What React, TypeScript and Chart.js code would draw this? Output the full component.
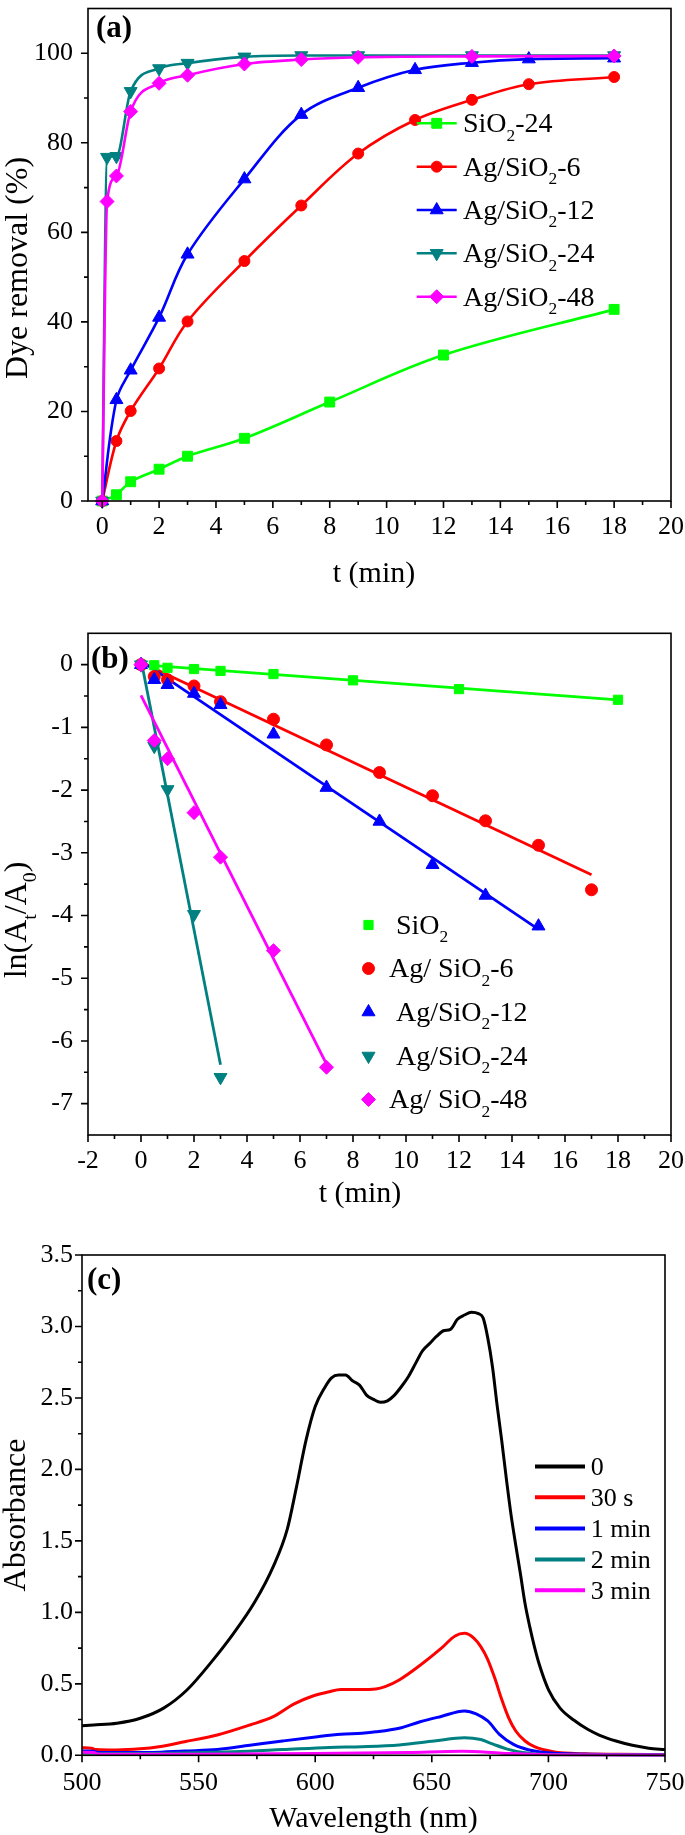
import React, { useEffect, useRef } from "react";
import { Chart, registerables } from "chart.js";

Chart.register(...registerables);

const SERIF = "'Liberation Serif', 'Times New Roman', Times, serif";
const W = 685;

const GREEN = "#00ff00";
const RED = "#ff0000";
const BLUE = "#0000ff";
const TEAL = "#008080";
const MAGENTA = "#ff00ff";
const BLACK = "#000000";

// ---------------- Panel (a): dye removal (%) vs t (min) ----------------
const namesA = ["SiO_2-24", "Ag/SiO_2-6", "Ag/SiO_2-12", "Ag/SiO_2-24", "Ag/SiO_2-48"];
const tA_SiO2 = [0, 0.5, 1, 2, 3, 5, 8, 12, 18];
const rA_SiO2 = [0, 1.4, 4.3, 7.1, 10.0, 14.0, 22.1, 32.6, 42.8];
const tA_Ag6 = [0, 0.5, 1, 2, 3, 5, 7, 9, 11, 13, 15, 18];
const rA_Ag6 = [0, 13.4, 20.1, 29.6, 40.1, 53.6, 66.0, 77.6, 85.1, 89.6, 93.1, 94.7];
const tA_Ag12 = [0, 0.5, 1, 2, 3, 5, 7, 9, 11, 13, 15, 18];
const rA_Ag12 = [0, 22.6, 29.2, 41.0, 55.1, 71.9, 86.3, 92.3, 96.3, 97.9, 98.7, 98.9];
const tA_Ag24 = [0, 0.17, 0.5, 1, 2, 3, 5, 7, 9, 13, 18];
const rA_Ag24 = [0, 76.8, 77.0, 91.5, 96.6, 97.8, 99.2, 99.5, 99.5, 99.5, 99.5];
const tA_Ag48 = [0, 0.17, 0.5, 1, 2, 3, 5, 7, 9, 13, 18];
const rA_Ag48 = [0, 66.9, 72.6, 87.0, 93.3, 95.1, 97.6, 98.6, 99.1, 99.3, 99.4];

const xTicksA = [0, 2, 4, 6, 8, 10, 12, 14, 16, 18, 20];
const xTickLabelsA = ["0", "2", "4", "6", "8", "10", "12", "14", "16", "18", "20"];
const xMinorA = [1, 3, 5, 7, 9, 11, 13, 15, 17, 19];
const yTicksA = [0, 20, 40, 60, 80, 100];
const yTickLabelsA = ["0", "20", "40", "60", "80", "100"];
const yMinorA = [10, 30, 50, 70, 90];

// ---------------- Panel (b): ln(At/A0) vs t (min) ----------------
const namesB = [" SiO_2", "Ag/ SiO_2-6", " Ag/SiO_2-12", " Ag/SiO_2-24", "Ag/ SiO_2-48"];
const tB_SiO2 = [0, 0.5, 1, 2, 3, 5, 8, 12, 18];
const lB_SiO2 = [0, -0.01, -0.05, -0.07, -0.10, -0.15, -0.25, -0.39, -0.56];
const tB_Ag6 = [0, 0.5, 1, 2, 3, 5, 7, 9, 11, 13, 15, 17];
const lB_Ag6 = [0, -0.19, -0.24, -0.34, -0.59, -0.87, -1.28, -1.72, -2.09, -2.49, -2.88, -3.59];
const tB_Ag12 = [0, 0.5, 1, 2, 3, 5, 7, 9, 11, 13, 15];
const lB_Ag12 = [0, -0.24, -0.32, -0.46, -0.64, -1.11, -1.96, -2.5, -3.19, -3.68, -4.17];
const tB_Ag24 = [0, 0.5, 1, 2, 3];
const lB_Ag24 = [0, -1.3, -1.99, -3.98, -6.58];
const tB_Ag48 = [0, 0.5, 1, 2, 3, 5, 7];
const lB_Ag48 = [0, -1.21, -1.5, -2.36, -3.07, -4.56, -6.42];
// fitted straight lines (end points)
const fitT_SiO2 = [0, 18];
const fitL_SiO2 = [0.0, -0.56];
const fitT_Ag6 = [0, 17];
const fitL_Ag6 = [0.04, -3.35];
const fitT_Ag12 = [0, 15];
const fitL_Ag12 = [0.06, -4.22];
const fitT_Ag24 = [0, 3];
const fitL_Ag24 = [0.08, -6.38];
const fitT_Ag48 = [0, 7];
const fitL_Ag48 = [-0.49, -6.37];

const xTicksB = [-2, 0, 2, 4, 6, 8, 10, 12, 14, 16, 18, 20];
const xTickLabelsB = ["-2", "0", "2", "4", "6", "8", "10", "12", "14", "16", "18", "20"];
const xMinorB = [-1, 1, 3, 5, 7, 9, 11, 13, 15, 17, 19];
const yTicksB = [-7, -6, -5, -4, -3, -2, -1, 0];
const yTickLabelsB = ["-7", "-6", "-5", "-4", "-3", "-2", "-1", "0"];
const yMinorB = [-6.5, -5.5, -4.5, -3.5, -2.5, -1.5, -0.5];

// ---------------- Panel (c): absorbance spectra ----------------
const namesC = ["0", "30 s", "1 min", "2 min", "3 min"];
const wl_0 = [500, 505, 515, 525, 535, 545, 555, 565, 574, 582, 588, 592, 596, 600, 604, 607, 610, 613, 616, 619, 622, 625, 628, 631, 634, 637, 640, 643, 646, 649, 652, 655, 658, 661, 664, 667, 670, 672, 674, 676, 678, 680, 682, 684, 686, 688, 690, 692, 694, 696, 700, 705, 711, 717, 722, 729, 736, 743, 750];
const abs_0 = [0.207, 0.212, 0.224, 0.259, 0.33, 0.457, 0.643, 0.853, 1.07, 1.32, 1.58, 1.88, 2.2, 2.44, 2.57, 2.64, 2.66, 2.66, 2.62, 2.59, 2.52, 2.49, 2.47, 2.48, 2.52, 2.58, 2.65, 2.74, 2.83, 2.88, 2.93, 2.97, 2.98, 3.05, 3.08, 3.10, 3.09, 3.06, 2.92, 2.72, 2.45, 2.2, 1.93, 1.68, 1.47, 1.27, 1.06, 0.9, 0.76, 0.64, 0.46, 0.33, 0.245, 0.18, 0.14, 0.1, 0.07, 0.05, 0.04];
const wl_30s = [500, 504, 506, 515, 525, 533, 544, 558, 572, 582, 591, 599, 606, 611, 619, 626, 630, 636, 645, 654, 660, 664, 668, 671, 674, 677, 680, 683, 686, 690, 694, 702, 716, 730, 750];
const abs_30s = [0.053, 0.05, 0.04, 0.037, 0.045, 0.06, 0.095, 0.142, 0.212, 0.27, 0.36, 0.415, 0.445, 0.46, 0.46, 0.464, 0.48, 0.527, 0.63, 0.748, 0.835, 0.853, 0.82, 0.76, 0.67, 0.54, 0.39, 0.26, 0.17, 0.1, 0.06, 0.025, 0.01, 0.007, 0.005];
const wl_1m = [500, 505, 507, 530, 544, 558, 572, 586, 601, 611, 620, 626, 636, 645, 654, 664, 669, 674, 679, 685, 694, 708, 750];
const abs_1m = [0.03, 0.028, 0.02, 0.02, 0.03, 0.04, 0.07, 0.10, 0.13, 0.147, 0.155, 0.164, 0.189, 0.235, 0.272, 0.31, 0.29, 0.24, 0.147, 0.077, 0.03, 0.01, 0.003];
const wl_2m = [500, 505, 507, 530, 565, 586, 606, 620, 636, 651, 664, 671, 676, 682, 689, 700, 750];
const abs_2m = [0.015, 0.015, 0.01, 0.012, 0.025, 0.04, 0.055, 0.06, 0.072, 0.1, 0.123, 0.11, 0.08, 0.045, 0.02, 0.005, 0.002];
const wl_3m = [500, 505, 507, 550, 600, 640, 663, 680, 700, 750];
const abs_3m = [0.022, 0.02, 0.008, 0.008, 0.012, 0.02, 0.028, 0.015, 0.004, 0.002];

const xTicksC = [500, 550, 600, 650, 700, 750];
const xTickLabelsC = ["500", "550", "600", "650", "700", "750"];
const xMinorC = [525, 575, 625, 675, 725];
const yTicksC = [0, 0.5, 1, 1.5, 2, 2.5, 3, 3.5];
const yTickLabelsC = ["0.0", "0.5", "1.0", "1.5", "2.0", "2.5", "3.0", "3.5"];
const yMinorC = [0.25, 0.75, 1.25, 1.75, 2.25, 2.75, 3.25];

// ---------------- helpers ----------------
type Seg = { t: string; sub?: boolean };
function parseRich(text: string): Seg[] {
  const segs: Seg[] = [];
  let buf = "";
  for (let i = 0; i < text.length; i++) {
    if (text[i] === "_" && i + 1 < text.length) {
      if (buf) segs.push({ t: buf });
      buf = "";
      segs.push({ t: text[i + 1], sub: true });
      i++;
    } else buf += text[i];
  }
  if (buf) segs.push({ t: buf });
  return segs;
}

function drawRich(ctx: CanvasRenderingContext2D, text: string, x: number, y: number, size: number, align: string, bold = false) {
  const segs = parseRich(text);
  const sub = size * 0.62;
  const fontOf = (s: boolean) => `${bold ? "bold " : ""}${s ? sub : size}px ${SERIF}`;
  const ws: number[] = [];
  let total = 0;
  for (const s of segs) {
    ctx.font = fontOf(!!s.sub);
    const w = ctx.measureText(s.t).width;
    ws.push(w);
    total += w;
  }
  let cx = align === "center" ? x - total / 2 : x;
  ctx.textAlign = "left";
  ctx.textBaseline = "alphabetic";
  segs.forEach((s, i) => {
    ctx.font = fontOf(!!s.sub);
    ctx.fillText(s.t, cx, y + (s.sub ? size * 0.3 : 0));
    cx += ws[i];
  });
}

function drawMarker(ctx: CanvasRenderingContext2D, style: string, x: number, y: number, r: number, rot: number, color: string) {
  ctx.save();
  ctx.fillStyle = color;
  ctx.strokeStyle = color;
  ctx.lineWidth = 1;
  ctx.beginPath();
  if (style === "circle") ctx.arc(x, y, r, 0, Math.PI * 2);
  else if (style === "rect") {
    const s = r * Math.SQRT1_2;
    ctx.rect(x - s, y - s, 2 * s, 2 * s);
  } else if (style === "rectRot") {
    ctx.moveTo(x - r, y);
    ctx.lineTo(x, y - r);
    ctx.lineTo(x + r, y);
    ctx.lineTo(x, y + r);
    ctx.closePath();
  } else {
    let a = (rot * Math.PI) / 180;
    for (let k = 0; k < 3; k++) {
      const px = x + Math.sin(a) * r;
      const py = y - Math.cos(a) * r;
      if (k === 0) ctx.moveTo(px, py);
      else ctx.lineTo(px, py);
      a += (2 * Math.PI) / 3;
    }
    ctx.closePath();
  }
  ctx.fill();
  ctx.stroke();
  ctx.restore();
}

function decorPlugin(cfg: any) {
  return {
    id: "decor_" + cfg.name,
    afterDraw(chart: any) {
      const ctx: CanvasRenderingContext2D = chart.ctx;
      const a = chart.chartArea;
      const xs = chart.scales.x;
      const ys = chart.scales.y;
      ctx.save();
      ctx.strokeStyle = "#000";
      ctx.lineWidth = 1.6;
      ctx.strokeRect(a.left, a.top, a.right - a.left, a.bottom - a.top);
      ctx.beginPath();
      for (const v of cfg.xMajor) { const p = xs.getPixelForValue(v); ctx.moveTo(p, a.bottom); ctx.lineTo(p, a.bottom + 7); }
      for (const v of cfg.xMinor) { const p = xs.getPixelForValue(v); ctx.moveTo(p, a.bottom); ctx.lineTo(p, a.bottom + 4); }
      for (const v of cfg.yMajor) { const p = ys.getPixelForValue(v); ctx.moveTo(a.left, p); ctx.lineTo(a.left - 7, p); }
      for (const v of cfg.yMinor) { const p = ys.getPixelForValue(v); ctx.moveTo(a.left, p); ctx.lineTo(a.left - 4, p); }
      ctx.stroke();
      ctx.fillStyle = "#000";
      drawRich(ctx, cfg.panel.text, cfg.panel.x, cfg.panel.y, 31, "left", true);
      drawRich(ctx, cfg.xTitle.text, cfg.xTitle.x, cfg.xTitle.y, 30, "center");
      ctx.save();
      ctx.translate(cfg.yTitle.x, cfg.yTitle.y);
      ctx.rotate(-Math.PI / 2);
      drawRich(ctx, cfg.yTitle.text, 0, 0, 32, "center");
      ctx.restore();
      const L = cfg.legend;
      L.items.forEach((it: any, i: number) => {
        const y = L.rows[i];
        if (L.line) {
          ctx.save();
          ctx.strokeStyle = it.color;
          ctx.lineWidth = L.lineWidth;
          ctx.beginPath();
          ctx.moveTo(L.line[0], y);
          ctx.lineTo(L.line[1], y);
          ctx.stroke();
          ctx.restore();
        }
        if (it.style) drawMarker(ctx, it.style, L.marker, y, it.radius, it.rotation || 0, it.color);
        ctx.fillStyle = "#000";
        drawRich(ctx, it.label, L.textX, y + L.font * 0.32, L.font, "left");
      });
      ctx.restore();
    },
  };
}

function axisOpts(min: number, max: number, ticks: number[], labels: string[], pad: number, horizontal: boolean, size: number) {
  return {
    type: "linear",
    min,
    max,
    afterBuildTicks: (s: any) => { s.ticks = ticks.map((v) => ({ value: v })); },
    afterFit: (s: any) => {
      if (horizontal) s.height = size; else s.width = size;
      s.paddingLeft = 0; s.paddingRight = 0; s.paddingTop = 0; s.paddingBottom = 0;
    },
    grid: { display: false, drawTicks: false },
    border: { display: false },
    title: { display: false },
    ticks: {
      autoSkip: false,
      maxRotation: 0,
      minRotation: 0,
      padding: pad,
      color: "#000",
      font: { family: SERIF, size: 26 },
      callback: (_v: any, i: number) => labels[i],
    },
  };
}

function pts(xs: number[], ys: number[]) {
  return xs.map((x, i) => ({ x, y: ys[i] }));
}

function baseOptions(area: any, x: any, y: any) {
  return {
    responsive: false,
    animation: false,
    devicePixelRatio: 1,
    layout: { padding: { left: 0, top: area.top, right: W - area.right, bottom: 0 } },
    plugins: { legend: { display: false }, tooltip: { enabled: false } },
    scales: { x, y },
  };
}

// ---------------- chart builders ----------------
function buildA() {
  const H = 600;
  const area = { left: 88, top: 1, right: 671, bottom: 501 };
  const series = [
    { x: tA_SiO2, y: rA_SiO2, c: GREEN, s: "rect", r: 7, rot: 0, mono: false },
    { x: tA_Ag6, y: rA_Ag6, c: RED, s: "circle", r: 5.5, rot: 0, mono: false },
    { x: tA_Ag12, y: rA_Ag12, c: BLUE, s: "triangle", r: 7.5, rot: 0, mono: false },
    { x: tA_Ag24, y: rA_Ag24, c: TEAL, s: "triangle", r: 7.5, rot: 180, mono: true },
    { x: tA_Ag48, y: rA_Ag48, c: MAGENTA, s: "rectRot", r: 7, rot: 0, mono: true },
  ];
  const datasets = series.map((d, i) => ({
    label: namesA[i],
    data: pts(d.x, d.y),
    borderColor: d.c,
    backgroundColor: d.c,
    borderWidth: 2.6,
    pointStyle: d.s,
    pointRadius: d.r,
    pointRotation: d.rot,
    pointBackgroundColor: d.c,
    pointBorderColor: d.c,
    pointBorderWidth: 1,
    cubicInterpolationMode: d.mono ? "monotone" : "default",
    tension: d.mono ? 0 : 0.35,
    clip: false,
    order: -i,
  }));
  const cfg = {
    name: "a",
    xMajor: xTicksA, xMinor: xMinorA, yMajor: yTicksA, yMinor: yMinorA,
    panel: { text: "(a)", x: 96, y: 37 },
    xTitle: { text: "t (min)", x: 374, y: 582 },
    yTitle: { text: "Dye removal (%)", x: 27, y: 268 },
    legend: {
      line: [416.7, 456.7], lineWidth: 2.6, marker: 436.7, textX: 463, font: 28,
      rows: [123.3, 166.7, 210, 253.3, 296.7],
      items: series.map((d, i) => ({ label: namesA[i], color: d.c, style: d.s, radius: d.r, rotation: d.rot })),
    },
  };
  return {
    H,
    config: {
      type: "line",
      data: { datasets },
      options: baseOptions(area,
        axisOpts(-0.5, 20, xTicksA, xTickLabelsA, 11, true, H - area.bottom),
        axisOpts(0, 110, yTicksA, yTickLabelsA, 15, false, area.left)),
      plugins: [decorPlugin(cfg)],
    },
  };
}

function buildB() {
  const H = 615;
  const area = { left: 88, top: 33.3, right: 671, bottom: 535 };
  const series = [
    { x: tB_SiO2, y: lB_SiO2, fx: fitT_SiO2, fy: fitL_SiO2, c: GREEN, s: "rect", r: 6.5, rot: 0 },
    { x: tB_Ag6, y: lB_Ag6, fx: fitT_Ag6, fy: fitL_Ag6, c: RED, s: "circle", r: 6, rot: 0 },
    { x: tB_Ag12, y: lB_Ag12, fx: fitT_Ag12, fy: fitL_Ag12, c: BLUE, s: "triangle", r: 7.5, rot: 0 },
    { x: tB_Ag24, y: lB_Ag24, fx: fitT_Ag24, fy: fitL_Ag24, c: TEAL, s: "triangle", r: 7.5, rot: 180 },
    { x: tB_Ag48, y: lB_Ag48, fx: fitT_Ag48, fy: fitL_Ag48, c: MAGENTA, s: "rectRot", r: 7, rot: 0 },
  ];
  const datasets: any[] = [];
  series.forEach((d, i) => {
    datasets.push({
      label: namesB[i] + " fit",
      data: pts(d.fx, d.fy),
      borderColor: d.c,
      borderWidth: 2.8,
      pointRadius: 0,
      showLine: true,
      tension: 0,
      clip: false,
      order: 20 - i,
    });
  });
  series.forEach((d, i) => {
    datasets.push({
      label: namesB[i],
      data: pts(d.x, d.y),
      showLine: false,
      borderColor: d.c,
      backgroundColor: d.c,
      pointStyle: d.s,
      pointRadius: d.r,
      pointRotation: d.rot,
      pointBackgroundColor: d.c,
      pointBorderColor: d.c,
      pointBorderWidth: 1,
      clip: false,
      order: -i,
    });
  });
  const cfg = {
    name: "b",
    xMajor: xTicksB, xMinor: xMinorB, yMajor: yTicksB, yMinor: yMinorB,
    panel: { text: "(b)", x: 91, y: 68.4 },
    xTitle: { text: "t (min)", x: 360, y: 602 },
    yTitle: { text: "ln(A_t/A_0)", x: 26, y: 320 },
    legend: {
      line: null, lineWidth: 0, marker: 368.5, textX: 389, font: 28,
      rows: [325, 368.5, 412, 456, 499.5],
      items: series.map((d, i) => ({ label: namesB[i], color: d.c, style: d.s, radius: d.r, rotation: d.rot })),
    },
  };
  return {
    H,
    config: {
      type: "line",
      data: { datasets },
      options: baseOptions(area,
        axisOpts(-2, 20, xTicksB, xTickLabelsB, 10.5, true, H - area.bottom),
        axisOpts(-7.5, 0.5, yTicksB, yTickLabelsB, 15, false, area.left)),
      plugins: [decorPlugin(cfg)],
    },
  };
}

function buildC() {
  const H = 620;
  const area = { left: 82, top: 40, right: 665, bottom: 540.3 };
  const series = [
    { x: wl_0, y: abs_0, c: BLACK },
    { x: wl_30s, y: abs_30s, c: RED },
    { x: wl_1m, y: abs_1m, c: BLUE },
    { x: wl_2m, y: abs_2m, c: TEAL },
    { x: wl_3m, y: abs_3m, c: MAGENTA },
  ];
  const datasets = series.map((d, i) => ({
    label: namesC[i],
    data: pts(d.x, d.y),
    borderColor: d.c,
    backgroundColor: d.c,
    borderWidth: 3,
    pointRadius: 0,
    cubicInterpolationMode: "monotone",
    clip: false,
    order: -i,
  }));
  const cfg = {
    name: "c",
    xMajor: xTicksC, xMinor: xMinorC, yMajor: yTicksC, yMinor: yMinorC,
    panel: { text: "(c)", x: 87, y: 74.4 },
    xTitle: { text: "Wavelength (nm)", x: 373.5, y: 612 },
    yTitle: { text: "Absorbance", x: 25, y: 300 },
    legend: {
      line: [535, 585], lineWidth: 4, marker: 0, textX: 590.7, font: 26,
      rows: [251.5, 282.3, 313.5, 344.5, 375.3],
      items: series.map((d, i) => ({ label: namesC[i], color: d.c, style: null })),
    },
  };
  return {
    H,
    config: {
      type: "line",
      data: { datasets },
      options: baseOptions(area,
        axisOpts(500, 750, xTicksC, xTickLabelsC, 12.6, true, H - area.bottom),
        axisOpts(0, 3.5, yTicksC, yTickLabelsC, 9, false, area.left)),
      plugins: [decorPlugin(cfg)],
    },
  };
}

function Panel({ build, top }: { build: () => any; top: number }) {
  const ref = useRef<HTMLCanvasElement>(null);
  const built = build();
  useEffect(() => {
    const b = build();
    const chart = new Chart(ref.current as HTMLCanvasElement, b.config as any);
    return () => chart.destroy();
  }, []);
  return (
    <canvas
      ref={ref}
      width={W}
      height={built.H}
      style={{ position: "absolute", left: 0, top, width: W, height: built.H, display: "block" }}
    />
  );
}

export default function App() {
  return (
    <div style={{ position: "absolute", left: 0, top: 0, width: W, height: 1835, background: "#fff" }}>
      <Panel build={buildA} top={0} />
      <Panel build={buildB} top={600} />
      <Panel build={buildC} top={1215} />
    </div>
  );
}
